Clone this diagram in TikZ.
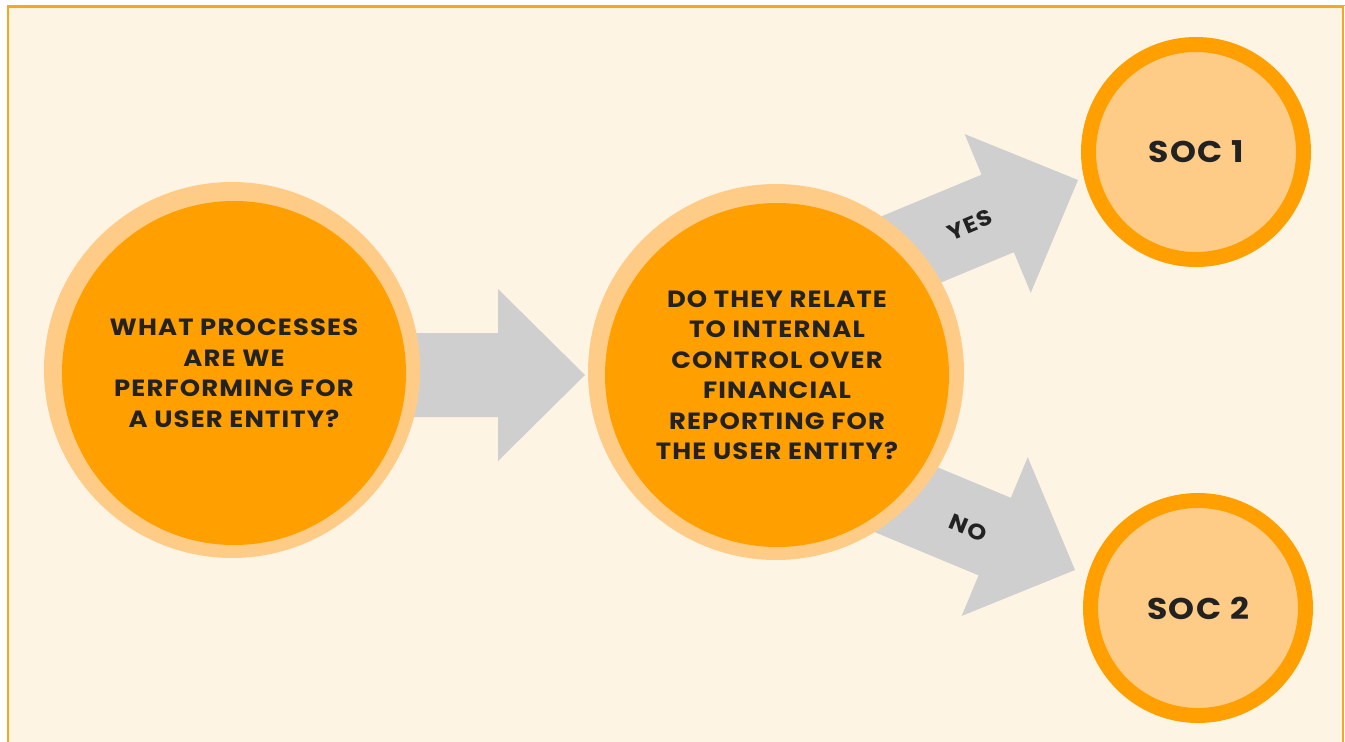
\documentclass[tikz,border=0pt]{standalone}
\usepackage{fontspec}
\setmainfont{Poppins}[FakeStretch=1.1, LetterSpace=5]
\definecolor{cream}{HTML}{FEF4E4}
\definecolor{frameor}{HTML}{F5A623}
\definecolor{darkor}{HTML}{FFA000}
\definecolor{lightor}{HTML}{FFCC88}
\definecolor{arrgray}{HTML}{CFCFCF}
\definecolor{txt}{HTML}{222222}
\tikzset{
  ring/.style={circle, fill=lightor, inner sep=0pt, minimum size=376pt},
  core/.style={circle, fill=darkor, inner sep=0pt, minimum size=344pt, text=txt, align=center,
     font=\fontsize{23.5}{30.5}\selectfont\bfseries},
  socnode/.style={circle, fill=lightor, draw=darkor, line width=15pt, inner sep=0pt, minimum size=215pt,
     text=txt, font=\fontsize{30}{34}\selectfont\bfseries},
  lbl/.style={text=txt, font=\fontsize{22}{24}\selectfont\bfseries, inner sep=0pt}
}
\newcommand\blockarrow[4]{%
  \begin{scope}[shift={(#1,#2)}, rotate=#3]
    \fill[arrgray] (0,0) -- (-87,86) -- (-87,42) -- (-#4,42) -- (-#4,-42) -- (-87,-42) -- (-87,-86) -- cycle;
  \end{scope}}
\begin{document}
\begin{tikzpicture}[x=1pt, y=-1pt]
  \useasboundingbox (0,0) rectangle (1345,742);
  \fill[white] (0,0) rectangle (1345,742);
  \draw[gray!60, line width=1pt] (7,5) -- (1345,5);
  \filldraw[fill=cream, draw=frameor, line width=2pt] (8,6.5) rectangle (1342.5,760);
  % arrows (behind circles)
  \blockarrow{585}{375}{0}{300}
  \blockarrow{1078}{180}{22.6}{260}
  \blockarrow{1075}{570}{-22.6}{260}
  % circles
  \node[ring] (r1) at (232,370) {};
  \node[core] (q1) at (234,373) {WHAT PROCESSES\\ARE WE\\PERFORMING FOR\\A USER ENTITY?};
  \node[ring] (r2) at (776,372) {};
  \node[core] (q2) at (777,375) {DO THEY RELATE\\TO INTERNAL\\CONTROL OVER\\FINANCIAL\\REPORTING FOR\\THE USER ENTITY?};
  \node[socnode] (s1) at (1196,152) {SOC 1};
  \node[socnode] (s2) at (1198,608) {SOC 2};
  % labels
  \node[lbl, rotate=22.6] (yes) at (970,225) {YES};
  \node[lbl, rotate=-22.6] (no) at (968,528) {NO};
\end{tikzpicture}
\end{document}
